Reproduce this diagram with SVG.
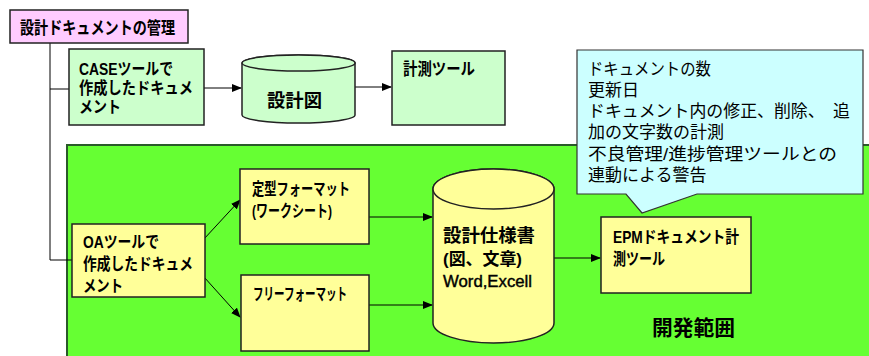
<svg xmlns="http://www.w3.org/2000/svg" width="869" height="356" viewBox="0 0 869 356">
<defs>
<marker id="ah" markerWidth="10" markerHeight="8" refX="9" refY="4" orient="auto" markerUnits="userSpaceOnUse">
<path d="M0,0 L10,4 L0,8 Z" fill="#000"/>
</marker>
<style>
.t{font-family:"Liberation Sans","Noto Sans CJK JP",sans-serif;font-weight:bold;font-size:16.5px;fill:#000}
.c{font-family:"Liberation Sans","Noto Sans CJK JP",sans-serif;font-size:17px;fill:#000}
.box{stroke:#222;stroke-width:1.5}
.g{fill:#CCFFCC}
.y{fill:#FFFF99}
.ln{stroke:#000;stroke-width:1;fill:none}
</style>
</defs>
<rect width="869" height="356" fill="#fff"/>
<g id="dev-area">
<rect x="67" y="145" width="810" height="220" fill="#66FF33" stroke="#2a5a2a" stroke-width="2"/>
<text class="t" x="652" y="335" style="font-size:21px" textLength="83" lengthAdjust="spacingAndGlyphs">開発範囲</text>
</g>
<g id="connectors">
<polyline class="ln" points="50,43 50,260"/>
<line class="ln" x1="50" y1="89" x2="69" y2="89"/>
<line class="ln" x1="50" y1="260" x2="72" y2="260"/>
<line class="ln" x1="204" y1="88" x2="241" y2="88" marker-end="url(#ah)"/>
<line class="ln" x1="355" y1="87" x2="391" y2="87" marker-end="url(#ah)"/>
<line class="ln" x1="204" y1="239" x2="240" y2="200" marker-end="url(#ah)"/>
<line class="ln" x1="204" y1="277" x2="240" y2="317" marker-end="url(#ah)"/>
<line class="ln" x1="369" y1="217" x2="432" y2="217" marker-end="url(#ah)"/>
<line class="ln" x1="369" y1="305" x2="432" y2="305" marker-end="url(#ah)"/>
<line class="ln" x1="554" y1="258" x2="600" y2="258" marker-end="url(#ah)"/>
</g>
<g id="title">
<rect class="box" x="10" y="10" width="178" height="33" fill="#FFCCFF"/>
<text class="t" x="20" y="34" style="font-size:17.5px" textLength="155" lengthAdjust="spacingAndGlyphs">設計ドキュメントの管理</text>
</g>
<g id="case">
<rect class="box g" x="69" y="49" width="135" height="76"/>
<text class="t" x="79" y="75" textLength="94" lengthAdjust="spacingAndGlyphs">CASEツールで</text>
<text class="t" x="79" y="94" textLength="114" lengthAdjust="spacingAndGlyphs">作成したドキュメ</text>
<text class="t" x="79" y="113" textLength="42" lengthAdjust="spacingAndGlyphs">メント</text>
</g>
<g id="design-drawing">
<path class="box g" d="M242,63 L242,115 A56.5,8 0 0 0 355,115 L355,63 A56.5,8 0 0 0 242,63 Z"/>
<ellipse class="box g" cx="298.5" cy="63" rx="56.5" ry="8"/>
<text class="t" x="267" y="107" style="font-size:18px" textLength="55" lengthAdjust="spacingAndGlyphs">設計図</text>
</g>
<g id="measure-tool">
<rect class="box g" x="392" y="51" width="113" height="74"/>
<text class="t" x="403" y="75" textLength="72" lengthAdjust="spacingAndGlyphs">計測ツール</text>
</g>
<g id="oa">
<rect class="box y" x="72" y="224" width="133" height="73"/>
<text class="t" x="83" y="248" textLength="76" lengthAdjust="spacingAndGlyphs">OAツールで</text>
<text class="t" x="83" y="270" textLength="110" lengthAdjust="spacingAndGlyphs">作成したドキュメ</text>
<text class="t" x="83" y="292" textLength="40" lengthAdjust="spacingAndGlyphs">メント</text>
</g>
<g id="fixed-format">
<rect class="box y" x="240" y="169" width="129" height="75"/>
<text class="t" x="252" y="195" textLength="98" lengthAdjust="spacingAndGlyphs">定型フォーマット</text>
<text class="t" x="252" y="217" textLength="80" lengthAdjust="spacingAndGlyphs">(ワークシート)</text>
</g>
<g id="free-format">
<rect class="box y" x="241" y="275" width="128" height="76"/>
<text class="t" x="253" y="300" textLength="94" lengthAdjust="spacingAndGlyphs">フリーフォーマット</text>
</g>
<g id="spec">
<path class="box y" d="M433,189 L433,323 A60.5,20 0 0 0 554,323 L554,189 A60.5,20 0 0 0 433,189 Z"/>
<ellipse class="box y" cx="493.5" cy="189" rx="60.5" ry="20"/>
<text class="t" x="443" y="242" style="font-size:18px" textLength="92" lengthAdjust="spacingAndGlyphs">設計仕様書</text>
<text class="t" x="443" y="265" style="font-size:17px" textLength="79" lengthAdjust="spacingAndGlyphs">(図、文章)</text>
<text class="t" x="443" y="287" style="font-size:16px;font-weight:normal;stroke:#000;stroke-width:0.4" textLength="89" lengthAdjust="spacingAndGlyphs">Word,Excell</text>
</g>
<g id="epm">
<rect class="box y" x="601" y="217" width="150" height="76"/>
<text class="t" x="613" y="243" textLength="126" lengthAdjust="spacingAndGlyphs">EPMドキュメント計</text>
<text class="t" x="613" y="265" textLength="52" lengthAdjust="spacingAndGlyphs">測ツール</text>
</g>
<g id="callout">
<path d="M577,50 H863 V194 H697 L642,213 L626,194 H577 Z" fill="#CCFFFF" stroke="#333" stroke-width="1.2"/>
<text class="c" x="588" y="75" textLength="123" lengthAdjust="spacingAndGlyphs">ドキュメントの数</text>
<text class="c" x="588" y="96">更新日</text>
<text class="c" x="588" y="117" textLength="262" lengthAdjust="spacingAndGlyphs">ドキュメント内の修正、削除、　追</text>
<text class="c" x="588" y="138">加の文字数の計測</text>
<text class="c" x="588" y="160" textLength="249" lengthAdjust="spacingAndGlyphs">不良管理/進捗管理ツールとの</text>
<text class="c" x="588" y="181">連動による警告</text>
</g>
</svg>
